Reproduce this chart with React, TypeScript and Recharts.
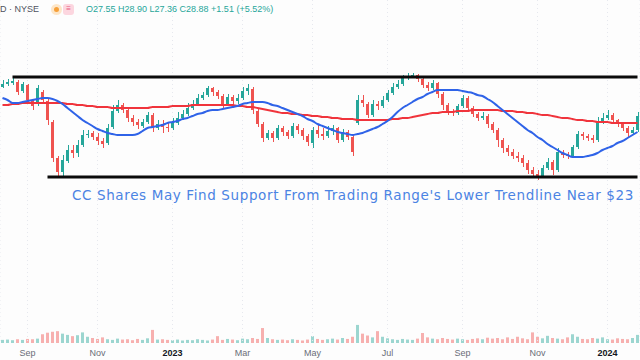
import React from 'react';
import {
    ComposedChart,
    Bar,
    Line,
    XAxis,
    YAxis,
    CartesianGrid,
    ReferenceLine,
    Cell,
} from 'recharts';

// CC daily candles, Aug 2022 - Jan 2024, [open, high, low, close]
const ohlc: [number, number, number, number][] = [
    [37.4, 38.52, 37.24, 37.88], [37.88, 38.68, 37.56, 38.2], [38.04, 38.84, 37.72, 38.36], [38.2, 38.52, 36.12, 36.6],
    [36.76, 38.2, 36.44, 37.88], [37.72, 37.88, 34.84, 35.32], [35.32, 35.48, 33.72, 34.36], [34.68, 37.72, 34.36, 37.24],
    [36.6, 36.92, 34.68, 35.32], [35.16, 35.48, 31.32, 32.12], [31.8, 32.12, 25.4, 26.04], [26.04, 26.36, 23.0, 23.8],
    [23.8, 26.52, 23.16, 25.72], [25.56, 28.12, 25.24, 27.32], [27.32, 28.12, 26.04, 26.84], [26.84, 28.92, 26.2, 28.12],
    [28.12, 30.52, 27.8, 29.72], [29.72, 30.52, 29.24, 29.88], [30.04, 30.36, 28.92, 29.4], [29.4, 30.04, 28.12, 28.76],
    [28.76, 29.24, 27.64, 28.28], [28.44, 31.48, 28.12, 30.84], [31.0, 34.52, 30.68, 33.56], [33.56, 35.32, 33.24, 34.52],
    [34.52, 34.84, 33.24, 33.72], [33.72, 34.04, 31.8, 32.44], [32.44, 32.92, 31.16, 31.8], [31.8, 32.28, 30.68, 31.32],
    [31.16, 32.28, 30.84, 31.8], [31.8, 33.4, 31.48, 32.92], [32.92, 33.24, 30.2, 30.84], [30.84, 32.12, 30.52, 31.48],
    [31.48, 32.12, 30.04, 31.0], [31.0, 31.64, 30.2, 30.84], [30.84, 32.44, 30.52, 31.64], [31.64, 33.4, 31.32, 32.44],
    [32.44, 33.72, 32.12, 33.08], [33.08, 34.84, 32.76, 34.04], [34.04, 35.32, 33.72, 34.68], [34.68, 36.28, 34.36, 35.64],
    [35.64, 36.6, 35.32, 36.12], [36.12, 37.56, 35.8, 37.24], [37.24, 37.4, 35.96, 36.6], [36.6, 36.92, 35.48, 35.96],
    [35.96, 36.28, 34.04, 34.68], [34.68, 36.28, 34.36, 35.8], [35.8, 36.12, 34.52, 35.16], [35.16, 36.28, 34.68, 35.64],
    [35.64, 37.4, 35.32, 36.76], [36.76, 37.88, 36.12, 37.24], [37.08, 37.4, 33.08, 33.72], [33.56, 33.88, 31.0, 31.48],
    [31.48, 31.8, 28.6, 29.24], [29.24, 30.52, 28.92, 30.04], [30.04, 30.36, 28.6, 29.24], [29.24, 31.32, 28.92, 30.84],
    [30.84, 31.16, 29.56, 30.2], [30.2, 30.52, 29.08, 29.56], [29.56, 31.64, 29.24, 31.16], [31.16, 31.48, 29.88, 30.52],
    [30.52, 30.84, 28.92, 29.56], [29.56, 29.88, 27.96, 28.6], [28.44, 31.0, 27.64, 30.52], [30.52, 31.32, 29.24, 29.88],
    [29.88, 30.84, 28.92, 29.56], [29.56, 31.16, 29.24, 30.36], [30.36, 31.32, 29.72, 30.84], [30.84, 31.0, 28.44, 28.92],
    [28.92, 30.68, 28.6, 30.2], [30.2, 30.52, 28.92, 29.4], [29.4, 29.72, 26.36, 27.0], [31.64, 36.12, 31.32, 35.32],
    [35.32, 36.12, 34.2, 34.84], [34.68, 35.0, 32.44, 32.92], [32.92, 35.32, 32.6, 34.68], [34.68, 35.16, 33.72, 34.36],
    [34.36, 35.96, 34.04, 35.32], [35.32, 36.92, 35.0, 36.44], [36.44, 38.04, 36.12, 37.4], [37.4, 38.52, 37.08, 37.88],
    [37.88, 39.32, 37.56, 38.84], [38.84, 39.64, 38.52, 39.16], [39.16, 39.64, 38.84, 39.32], [39.32, 39.48, 38.2, 38.68],
    [38.68, 39.0, 37.24, 37.72], [37.72, 38.2, 36.76, 37.24], [37.24, 38.52, 36.92, 38.04], [38.04, 38.2, 35.64, 36.28],
    [36.28, 36.6, 33.72, 34.52], [34.52, 34.84, 32.92, 33.4], [33.4, 33.88, 32.76, 33.24], [33.24, 34.68, 32.92, 34.36],
    [34.36, 36.12, 34.04, 35.64], [35.64, 35.96, 33.4, 34.04], [34.04, 34.36, 32.6, 33.08], [33.08, 33.4, 31.96, 32.44],
    [32.44, 33.4, 32.12, 32.76], [32.76, 33.08, 30.84, 31.48], [31.48, 31.8, 30.04, 30.52], [30.52, 30.84, 27.8, 28.92],
    [28.92, 29.24, 26.84, 27.64], [27.64, 28.12, 26.36, 27.0], [27.0, 27.48, 25.88, 26.36], [26.36, 27.0, 25.4, 26.04],
    [26.04, 26.52, 24.6, 25.24], [25.24, 25.72, 23.48, 24.12], [24.12, 24.6, 23.0, 23.48], [23.48, 24.12, 22.52, 23.16],
    [23.16, 24.92, 22.84, 24.44], [24.44, 26.04, 24.12, 25.4], [25.4, 25.72, 23.32, 24.12], [24.12, 27.64, 23.8, 27.0],
    [27.0, 27.32, 26.04, 26.52], [26.52, 27.0, 25.88, 26.36], [26.36, 28.12, 26.04, 27.8], [27.8, 30.36, 27.48, 29.88],
    [29.88, 30.2, 28.92, 29.56], [29.56, 29.88, 28.76, 29.24], [29.24, 29.72, 28.44, 28.92], [28.92, 32.6, 28.6, 31.8],
    [31.8, 33.24, 31.48, 32.44], [32.44, 33.72, 32.12, 32.92], [32.92, 33.24, 31.48, 32.12], [32.12, 32.28, 31.0, 31.48],
    [31.48, 31.8, 30.36, 30.84], [30.84, 31.16, 29.4, 30.04], [30.04, 31.0, 29.72, 30.52], [30.52, 33.4, 30.2, 32.76],
];

// 50-day moving average (blue)
const ma50 = [
    35.64, 35.32, 34.84, 34.84, 35.0, 35.16, 35.32, 35.48, 35.64, 35.64,
    35.48, 35.16, 34.68, 34.04, 33.4, 32.76, 32.12, 31.64, 31.16, 30.68,
    30.36, 30.04, 29.88, 29.72, 29.72, 29.72, 29.72, 29.88, 30.36, 30.84,
    31.0, 31.16, 31.32, 31.64, 31.8, 31.96, 32.28, 32.44, 32.76, 33.08,
    33.24, 33.56, 33.72, 33.72, 33.88, 34.04, 34.2, 34.36, 34.68, 34.84,
    35.0, 35.0, 35.0, 34.84, 34.52, 34.36, 34.04, 33.72, 33.4, 33.08,
    32.76, 32.28, 31.96, 31.48, 31.16, 30.84, 30.52, 30.2, 30.04, 29.88,
    29.72, 29.88, 30.04, 30.36, 30.68, 31.0, 31.48, 31.96, 32.6, 33.4,
    34.04, 34.52, 35.0, 35.48, 35.8, 36.28, 36.6, 36.92, 36.92, 36.92,
    36.92, 36.92, 36.76, 36.6, 36.44, 36.12, 35.96, 35.48, 35.0, 34.36,
    33.72, 33.08, 32.44, 31.8, 31.16, 30.52, 30.04, 29.4, 28.92, 28.28,
    27.8, 27.32, 26.84, 26.52, 26.2, 26.2, 26.2, 26.36, 26.52, 26.84,
    27.32, 27.64, 27.96, 28.44, 28.76, 29.24, 29.72, 30.2,
];

// 200-day moving average (red)
const ma200 = [
    34.52, 34.52, 34.68, 34.68, 34.84, 34.84, 34.84, 34.84, 34.84, 34.84,
    34.84, 34.84, 34.84, 34.68, 34.68, 34.52, 34.52, 34.36, 34.36, 34.2,
    34.2, 34.2, 34.04, 34.04, 34.04, 34.04, 34.04, 34.04, 34.04, 34.04,
    34.2, 34.2, 34.2, 34.2, 34.36, 34.36, 34.36, 34.36, 34.52, 34.52,
    34.52, 34.52, 34.52, 34.52, 34.52, 34.52, 34.52, 34.36, 34.36, 34.2,
    34.2, 34.04, 33.88, 33.72, 33.56, 33.4, 33.24, 33.24, 33.08, 33.08,
    32.92, 32.92, 32.76, 32.76, 32.6, 32.6, 32.44, 32.44, 32.28, 32.28,
    32.28, 32.12, 32.12, 32.12, 32.12, 32.12, 32.12, 32.12, 32.28, 32.28,
    32.44, 32.44, 32.6, 32.76, 32.92, 33.08, 33.24, 33.24, 33.4, 33.4,
    33.4, 33.56, 33.56, 33.56, 33.72, 33.72, 33.72, 33.72, 33.72, 33.72,
    33.56, 33.56, 33.56, 33.4, 33.4, 33.24, 33.24, 33.08, 32.92, 32.92,
    32.76, 32.6, 32.44, 32.44, 32.28, 32.12, 32.12, 31.96, 31.96, 31.8,
    31.8, 31.8, 31.64, 31.64, 31.64, 31.64, 31.64, 31.64,
];

// volume, millions of shares
const volume = [
    1.0, 1.1, 0.9, 1.2, 1.0, 1.3, 1.2, 1.4, 2.8, 3.3, 3.6, 3.8, 3.0, 2.6,
    2.2, 2.5, 3.4, 2.0, 1.6, 1.3, 1.8, 1.2, 1.0, 1.4, 1.1, 1.2, 0.9, 1.3,
    1.0, 1.5, 4.2, 1.1, 1.2, 1.0, 0.9, 1.1, 0.8, 1.0, 0.9, 1.2, 1.0, 0.8,
    1.1, 2.2, 1.0, 1.3, 1.1, 0.9, 1.4, 1.2, 1.6, 1.3, 4.8, 1.6, 1.2, 1.0,
    1.1, 0.9, 1.2, 1.0, 0.8, 1.1, 2.2, 1.3, 1.0, 1.2, 1.4, 1.1, 1.6, 1.3,
    2.0, 5.8, 3.0, 2.4, 1.8, 3.8, 2.0, 1.5, 1.2, 1.0, 1.3, 1.1, 1.0, 1.4,
    3.2, 1.8, 1.4, 1.2, 1.6, 1.3, 1.1, 1.4, 1.2, 1.0, 1.3, 1.5, 1.2, 1.7,
    1.4, 1.6, 1.2, 1.8, 1.3, 2.0, 1.5, 1.2, 3.4, 2.0, 1.5, 2.3, 1.6, 1.4,
    1.2, 1.8, 2.8, 2.0, 1.3, 1.2, 1.6, 1.4, 1.8, 1.2, 1.1, 1.5, 1.3, 1.2,
    1.6, 2.6,
];

// month labels and the candle each one sits on
const monthTicks = [5, 19, 34, 48, 62, 77, 92, 107, 121];
const monthLabels = ['Sep', 'Nov', '2023', 'Mar', 'May', 'Jul', 'Sep', 'Nov', '2024'];

// trading range
const upperLevel = 39;
const lowerLevel = 23;
const upperStart = 2;
const lowerStart = 9;

const UP = '#26a69a';
const DOWN = '#ef5350';
const UP_VOL = 'rgba(38,166,154,0.45)';
const DOWN_VOL = 'rgba(239,83,80,0.45)';
const W = 640;
const H = 360;
const AXIS_H = 17;

const rows = ohlc.map(([open, high, low, close], i) => ({
    idx: i,
    open,
    high,
    low,
    close,
    range: [low, high],
    ma50: ma50[i],
    ma200: ma200[i],
    vol: volume[i],
}));

const Candle = (props: any) => {
    const { x, y, width, height, payload } = props;
    if (!payload) return null;
    const { open, high, low, close } = payload;
    const color = close >= open ? UP : DOWN;
    const top = Math.min(y, y + height);
    const h = Math.abs(height);
    const ppu = h / (high - low || 1);
    const bodyTop = top + (high - Math.max(open, close)) * ppu;
    const bodyH = Math.max(1, Math.abs(open - close) * ppu);
    const cx = Math.round(x + width / 2) + 0.5;
    return (
        <g>
            <line x1={cx} x2={cx} y1={top} y2={top + h} stroke={color} strokeWidth={1} />
            <rect x={x} y={bodyTop} width={width} height={bodyH} fill={color} />
        </g>
    );
};

const MonthTick = ({ x, y, payload }: any) => {
    const label = monthLabels[monthTicks.indexOf(payload.value)] ?? '';
    const isYear = /^\d{4}$/.test(label);
    return (
        <text
            x={x}
            y={y + 13}
            textAnchor="middle"
            fontSize={9}
            fontFamily="'Liberation Sans', Arial, sans-serif"
            fontWeight={isYear ? 700 : 400}
            fill={isYear ? '#131722' : '#6a6d78'}
        >
            {label}
        </text>
    );
};

export default function App() {
    return (
        <div
            style={{
                position: 'absolute',
                left: 0,
                top: 0,
                width: W,
                height: H,
                overflow: 'hidden',
                background: '#fdfdfd',
                fontFamily: "'Liberation Sans', Arial, sans-serif",
            }}
        >
            {/* volume pane */}
            <div style={{ position: 'absolute', left: 0, top: 0 }}>
                <ComposedChart width={W} height={H - AXIS_H} data={rows} margin={{ top: 0, right: 0, bottom: 0, left: 0 }}>
                    <XAxis dataKey="idx" hide />
                    <YAxis hide domain={[0, 110]} />
                    <Bar dataKey="vol" barSize={3} isAnimationActive={false}>
                        {rows.map((r) => (
                            <Cell key={r.idx} fill={r.close >= r.open ? UP_VOL : DOWN_VOL} />
                        ))}
                    </Bar>
                </ComposedChart>
            </div>

            {/* price pane */}
            <div style={{ position: 'absolute', left: 0, top: 0 }}>
                <ComposedChart width={W} height={H} data={rows} margin={{ top: 0, right: 0, bottom: 0, left: 0 }}>
                    <CartesianGrid
                        yAxisId="price"
                        stroke="#e6e8ee"
                        strokeDasharray="1 3"
                        horizontal={false}
                    />
                    <XAxis
                        dataKey="idx"
                        ticks={monthTicks}
                        interval={0}
                        height={AXIS_H}
                        axisLine={false}
                        tickLine={false}
                        tickSize={0}
                        tickMargin={0}
                        tick={<MonthTick />}
                    />
                    <YAxis yAxisId="price" hide domain={[-3.56, 51.32]} allowDataOverflow />
                    <Bar
                        yAxisId="price"
                        dataKey="range"
                        barSize={3}
                        shape={<Candle />}
                        isAnimationActive={false}
                    />
                    <Line
                        yAxisId="price"
                        dataKey="ma200"
                        type="monotone"
                        stroke="#f0343c"
                        strokeWidth={2}
                        dot={false}
                        activeDot={false}
                        isAnimationActive={false}
                    />
                    <Line
                        yAxisId="price"
                        dataKey="ma50"
                        type="monotone"
                        stroke="#2f63e8"
                        strokeWidth={2}
                        dot={false}
                        activeDot={false}
                        isAnimationActive={false}
                    />
                    <ReferenceLine
                        yAxisId="price"
                        segment={[{ x: upperStart, y: upperLevel }, { x: rows.length - 1, y: upperLevel }]}
                        stroke="#0b0b0b"
                        strokeWidth={3}
                    />
                    <ReferenceLine
                        yAxisId="price"
                        segment={[{ x: lowerStart, y: lowerLevel }, { x: rows.length - 1, y: lowerLevel }]}
                        stroke="#0b0b0b"
                        strokeWidth={3}
                    />
                </ComposedChart>
            </div>

            {/* legend row */}
            <div
                style={{
                    position: 'absolute',
                    left: 0,
                    top: 3,
                    fontSize: 9,
                    lineHeight: '12px',
                    whiteSpace: 'nowrap',
                    display: 'flex',
                    alignItems: 'center',
                }}
            >
                <span style={{ color: '#50535e' }}>D · NYSE</span>
                <span
                    style={{
                        marginLeft: 12,
                        width: 11,
                        height: 11,
                        borderRadius: 6,
                        background: '#fde6c8',
                        display: 'inline-flex',
                        alignItems: 'center',
                        justifyContent: 'center',
                    }}
                >
                    <span style={{ width: 5, height: 5, borderRadius: 3, background: '#f6a03a' }} />
                </span>
                <span
                    style={{
                        marginLeft: 1,
                        width: 11,
                        height: 11,
                        borderRadius: 3,
                        background: '#fcd6df',
                        display: 'inline-flex',
                        alignItems: 'center',
                        justifyContent: 'center',
                        color: '#e8587c',
                        fontSize: 8,
                    }}
                >
                    ≡
                </span>
                <span style={{ marginLeft: 12, color: '#26a69a' }}>
                    O27.55 H28.90 L27.36 C28.88 +1.51 (+5.52%)
                </span>
            </div>

            {/* annotation */}
            <div
                style={{
                    position: 'absolute',
                    left: 72,
                    top: 187,
                    fontSize: 13.5,
                    lineHeight: '16px',
                    letterSpacing: 0.62,
                    fontFamily: "'DejaVu Sans', Verdana, sans-serif",
                    color: '#4b83e3',
                    whiteSpace: 'nowrap',
                }}
            >
                CC Shares May Find Support From Trading Range's Lower Trendline Near $23
            </div>
        </div>
    );
}
